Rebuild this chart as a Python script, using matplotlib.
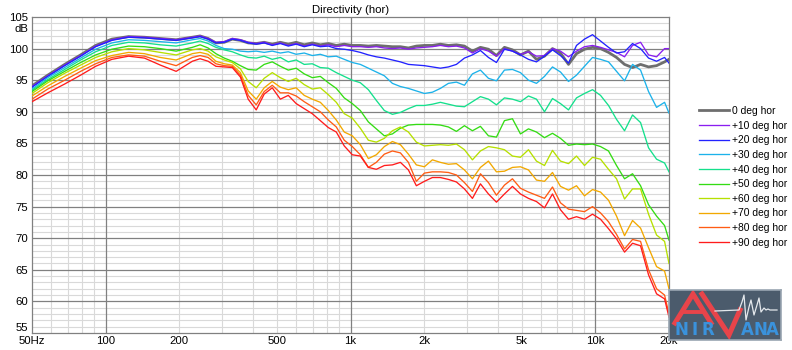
import matplotlib
matplotlib.use('Agg')
import matplotlib.pyplot as plt
import matplotlib.transforms as mtransforms
from matplotlib.ticker import NullLocator

plt.rcParams['font.family'] = ['Liberation Sans', 'DejaVu Sans']

# frequency points (Hz) shared by all curves
freq_hz = [50, 58, 68, 79, 91, 106, 124, 144, 167, 194, 226,
           243, 262, 282, 305, 329, 355, 382, 412, 444, 479,
           517, 557, 600, 647, 698, 753, 812, 875, 943, 1017,
           1097, 1183, 1275, 1375, 1483, 1599, 1724, 1858, 2004, 2160,
           2329, 2512, 2708, 2920, 3148, 3394, 3660, 3946, 4255, 4587,
           4946, 5333, 5750, 6200, 6685, 7207, 7771, 8379, 9034, 9741,
           10503, 11324, 12210, 13165, 14194, 15305, 16501, 17792, 19184, 20000]

# SPL (dB) per off-axis angle
spl_0 = [94.1, 95.8, 97.5, 99.0, 100.5, 101.5, 101.9, 101.8, 101.6, 101.4, 101.8,
         102.0, 101.6, 100.9, 101.0, 101.5, 101.3, 100.9, 100.8, 101.0, 100.7,
         101.0, 100.7, 101.0, 100.6, 100.9, 100.6, 100.8, 100.5, 100.7, 100.5,
         100.5, 100.4, 100.5, 100.4, 100.3, 100.3, 100.1, 100.4, 100.5, 100.5,
         100.7, 100.5, 100.6, 100.4, 99.6, 100.2, 99.9, 98.9, 100.2, 99.8,
         99.0, 99.6, 98.3, 98.8, 100.0, 99.3, 97.5, 99.2, 99.9, 100.2,
         100.0, 99.4, 98.6, 97.5, 97.0, 97.5, 97.1, 97.3, 97.9, 98.3]
spl_10 = [94.0, 95.7, 97.4, 98.9, 100.4, 101.4, 101.9, 101.8, 101.6, 101.4, 101.8,
          102.0, 101.6, 101.0, 101.1, 101.6, 101.4, 101.0, 100.8, 101.0, 100.6,
          100.9, 100.5, 100.8, 100.4, 100.7, 100.4, 100.6, 100.3, 100.5, 100.3,
          100.3, 100.2, 100.3, 100.1, 100.0, 100.1, 99.9, 100.1, 100.2, 100.3,
          100.5, 100.3, 100.4, 100.1, 99.3, 100.0, 99.6, 98.8, 100.0, 99.6,
          99.1, 99.5, 98.8, 98.9, 100.0, 99.6, 98.7, 99.6, 100.3, 100.5,
          100.2, 99.8, 99.4, 98.7, 100.5, 101.0, 99.0, 98.7, 100.0, 100.0]
spl_20 = [93.9, 95.6, 97.3, 98.8, 100.3, 101.3, 101.8, 101.7, 101.5, 101.3, 101.7,
          101.9, 101.5, 100.9, 101.0, 101.5, 101.3, 100.9, 100.7, 100.9, 100.5,
          100.8, 100.4, 100.7, 100.3, 100.6, 100.3, 100.4, 100.0, 99.9, 99.7,
          99.4, 99.0, 98.7, 98.5, 98.2, 97.9, 97.5, 97.4, 97.3, 97.1,
          96.9, 97.1, 97.5, 98.5, 99.0, 99.7, 98.6, 97.8, 99.9, 99.6,
          99.0, 98.3, 97.9, 98.8, 99.8, 98.9, 97.7, 100.5, 101.5, 102.2,
          101.2, 100.2, 99.3, 99.5, 100.8, 100.0, 98.5, 98.0, 98.6, 97.7]
spl_30 = [93.6, 95.4, 97.0, 98.5, 99.9, 100.9, 101.4, 101.3, 101.1, 100.9, 101.4,
          101.6, 101.2, 100.5, 100.0, 99.9, 99.6, 99.5, 99.6, 99.4, 99.6,
          99.3, 99.5, 99.1, 99.3, 98.9, 99.1, 98.7, 98.8, 98.3, 97.8,
          97.5, 96.9, 96.3, 95.7, 94.5, 94.0, 93.7, 93.3, 92.9, 93.1,
          93.7, 94.5, 94.7, 94.2, 96.0, 96.6, 95.3, 94.9, 96.6, 96.7,
          96.2, 95.0, 94.5, 95.6, 97.1, 96.3, 94.8, 95.8, 97.2, 98.6,
          98.3, 97.9, 96.4, 94.9, 97.5, 96.6, 93.2, 90.7, 91.5, 89.8]
spl_40 = [93.4, 95.1, 96.7, 98.2, 99.5, 100.5, 101.0, 100.9, 100.6, 100.4, 100.9,
          101.2, 100.8, 100.2, 99.8, 99.5, 99.0, 98.6, 98.5, 98.8, 98.3,
          98.6, 97.9, 98.2, 97.5, 97.6, 97.0, 96.9, 96.2, 95.6, 95.0,
          94.6, 93.5, 91.8, 90.2, 89.6, 89.9, 90.5, 91.0, 91.0, 91.2,
          91.5, 91.2, 90.9, 90.8, 91.6, 92.4, 92.0, 91.1, 92.2, 92.0,
          91.6, 92.5, 92.0, 90.0, 92.1, 91.3, 90.3, 92.2, 92.9, 93.5,
          92.6, 91.0, 88.8, 87.0, 89.5, 88.3, 84.3, 82.5, 81.9, 80.5]
spl_50 = [93.2, 94.9, 96.4, 97.8, 99.0, 99.9, 100.4, 100.3, 100.0, 99.6, 100.2,
          100.6, 100.1, 99.2, 98.5, 98.0, 97.3, 96.7, 96.6, 97.5, 97.9,
          97.2, 96.6, 96.9, 96.0, 95.4, 95.6, 94.6, 93.7, 92.2, 91.3,
          90.2, 88.4, 87.3, 86.2, 86.5, 87.4, 87.9, 88.0, 88.0, 88.0,
          87.9, 87.6, 86.9, 87.8, 87.0, 87.7, 86.2, 86.0, 88.6, 88.9,
          86.5, 87.3, 86.8, 85.9, 86.6, 85.8, 84.7, 84.9, 84.8, 84.9,
          84.5, 83.8, 81.5, 79.4, 80.2, 78.3, 75.3, 73.5, 72.0, 69.7]
spl_60 = [92.9, 94.6, 96.1, 97.4, 98.6, 99.5, 100.0, 99.8, 99.4, 99.0, 99.8,
          100.0, 99.6, 98.7, 98.2, 97.8, 96.8, 94.8, 93.8, 95.3, 96.2,
          95.4, 94.8, 95.3, 94.3, 93.6, 93.8, 92.7, 91.5, 89.7, 89.0,
          87.4, 85.5, 85.2, 85.8, 87.0, 87.6, 86.8, 85.2, 84.6, 84.7,
          84.8, 84.7, 84.9, 84.0, 82.4, 83.8, 84.5, 84.3, 84.0, 83.0,
          82.8, 84.0, 82.2, 81.5, 83.9, 82.2, 81.8, 83.0, 81.5, 82.8,
          82.5, 80.9, 79.4, 76.2, 77.8, 77.8, 73.8, 70.5, 69.5, 66.0]
spl_70 = [92.5, 94.1, 95.6, 96.9, 98.1, 98.9, 99.4, 99.2, 98.6, 98.2, 99.2,
          99.4, 99.1, 98.0, 97.6, 97.4, 96.2, 93.3, 92.0, 93.8, 94.8,
          93.9, 93.5, 93.8, 92.6, 92.0, 91.5, 90.2, 88.7, 86.8, 86.2,
          84.8, 82.6, 83.2, 84.5, 85.3, 84.8, 83.3, 81.6, 81.3, 82.4,
          82.0, 81.7, 81.8, 80.8, 79.4, 81.2, 82.2, 80.5, 80.6, 81.2,
          81.3, 80.8, 79.2, 79.0, 80.4, 78.2, 77.6, 78.3, 76.7, 77.7,
          77.3, 76.0, 73.5, 70.4, 72.8, 71.6, 68.5, 65.5, 64.8, 62.0]
spl_80 = [92.0, 93.6, 95.0, 96.4, 97.6, 98.6, 99.0, 98.8, 98.0, 97.3, 98.6,
          98.9, 98.6, 97.6, 97.3, 97.2, 95.8, 92.6, 91.1, 93.2, 94.2,
          93.0, 93.0, 92.5, 91.6, 90.8, 90.0, 88.7, 87.6, 85.5, 84.5,
          83.2, 81.2, 82.0, 83.3, 83.8, 83.5, 82.0, 79.0, 80.3, 80.5,
          80.5, 80.4, 80.0, 78.8, 77.4, 80.2, 78.8, 76.8, 78.4, 79.4,
          77.9, 77.3, 76.8, 76.3, 78.1, 75.6, 74.6, 74.4, 74.2, 75.0,
          74.0, 72.6, 70.6, 68.3, 69.8, 69.5, 65.0, 62.0, 61.0, 58.0]
spl_90 = [91.6, 93.0, 94.4, 95.8, 97.2, 98.3, 98.8, 98.5, 97.4, 96.4, 98.0,
          98.4, 98.0, 97.2, 97.1, 97.0, 95.5, 92.0, 90.3, 92.8, 93.8,
          92.0, 92.6, 91.3, 90.5, 89.7, 88.6, 87.5, 86.8, 84.6, 83.2,
          83.0, 81.2, 80.9, 81.5, 81.6, 82.0, 80.8, 78.3, 79.0, 79.6,
          79.6, 79.3, 78.9, 77.8, 76.3, 78.6, 77.0, 75.7, 77.0, 78.2,
          77.0, 76.3, 75.8, 74.8, 77.0, 74.5, 73.0, 73.4, 73.0, 73.8,
          73.0, 71.5, 69.9, 67.8, 69.2, 68.8, 64.2, 61.2, 60.4, 57.5]

curves = [spl_0, spl_10, spl_20, spl_30, spl_40, spl_50, spl_60, spl_70, spl_80, spl_90]
labels = ['0 deg hor', '+10 deg hor', '+20 deg hor', '+30 deg hor', '+40 deg hor',
          '+50 deg hor', '+60 deg hor', '+70 deg hor', '+80 deg hor', '+90 deg hor']
colors = ['#6e6e6e', '#8a1ef0', '#2222ff', '#1cb2ea', '#14e08c',
          '#34dc14', '#b6e000', '#f2a800', '#ff5c14', '#ff1c1c']

tick_f = [50, 100, 200, 500, 1000, 2000, 5000, 10000, 20000]
tick_lbl = ['50Hz', '100', '200', '500', '1k', '2k', '5k', '10k', '20k']

W, H = 792, 350
fig = plt.figure(figsize=(W / 100, H / 100), dpi=100)
ax = fig.add_axes([32 / W, (H - 333) / H, 637 / W, 316 / H])
ax.set_xscale('log')
ax.set_xlim(50, 20000)
ax.set_ylim(55, 105)

# grid: dark at decades / every 5 dB, light elsewhere
light = '#d9d9d9'
dark = '#808080'
for dec in [10, 100, 1000, 10000]:
    for m in range(2, 10):
        f = dec * m
        if 50 < f < 20000:
            ax.axvline(f, color=light, lw=0.8, zorder=0)
for f in [100, 1000, 10000]:
    ax.axvline(f, color=dark, lw=0.9, zorder=1)
for db in range(56, 105):
    ax.axhline(db, color=dark if db % 5 == 0 else light,
               lw=0.9 if db % 5 == 0 else 0.8, zorder=1 if db % 5 == 0 else 0)

for i, (spl, lbl, c) in enumerate(zip(curves, labels, colors)):
    lw = 2.0 if i == 0 else 0.95
    ax.plot(freq_hz, spl, color=c, lw=lw, label=lbl, zorder=3 + i,
            solid_joinstyle='round')

ax.set_xticks(tick_f, tick_lbl)
ax.xaxis.set_minor_locator(NullLocator())
ax.set_yticks(range(55, 106, 5))
ax.tick_params(length=0, labelsize=8.2, pad=3)
ax.tick_params(axis='x', pad=2)
# bottom label sits above the axis line so it clears "50Hz"
ax.get_yticklabels()[0].set_va('bottom')
for s in ax.spines.values():
    s.set_color(dark)
    s.set_linewidth(0.9)

trans = mtransforms.blended_transform_factory(ax.transAxes, ax.transData)
ax.text(-0.005, 103.15, 'dB', transform=trans, ha='right', va='center', fontsize=8.2)
ax.set_title('Directivity (hor)', fontsize=8.2, pad=3)

fig.legend(loc='upper left', bbox_to_anchor=(699 / W, 1 - 106 / H), frameon=False,
           fontsize=7.4, handlelength=2.9, handletextpad=0.3, labelspacing=0.45,
           borderpad=0, borderaxespad=0)

# logo in the lower right corner
logo = fig.add_axes([669 / W, (H - 340) / H, 112 / W, 50 / H])
logo.set_xlim(0, 112)
logo.set_ylim(50, 0)
logo.set_facecolor('#4b5b6c')
logo.set_xticks([])
logo.set_yticks([])
for s in logo.spines.values():
    s.set_color('#9aa6b2')
    s.set_linewidth(1.2)
red = '#e8444a'
blue = '#3a92dc'
a_x = [6, 24, 42]
a_y = [33, 4, 33]
logo.plot(a_x, a_y, color=red, lw=3.6, solid_joinstyle='miter')
logo.plot([13, 35], [22, 22], color=red, lw=2.8)
v_x = [33, 60, 71]
v_y = [4, 45, 20]
logo.plot(v_x, v_y, color=red, lw=3.6, solid_joinstyle='miter')
wave_x = [46, 70, 73, 75, 77, 80, 82, 85, 88, 90, 92, 95, 97, 99, 101, 108]
wave_y = [21, 20, 12, 5, 30, 17, 10, 25, 15, 8, 22, 18, 20, 19, 20, 20]
logo.plot(wave_x, wave_y, color='#e4e8ec', lw=0.9)
for ch, x in zip(['N', 'I', 'R', 'A', 'N', 'A'], [12, 26, 39, 78, 91, 103]):
    logo.text(x, 45, ch, color=blue, fontsize=12, ha='center', va='baseline',
              family='DejaVu Sans', weight='bold')

fig.savefig('out.png', dpi=100)
